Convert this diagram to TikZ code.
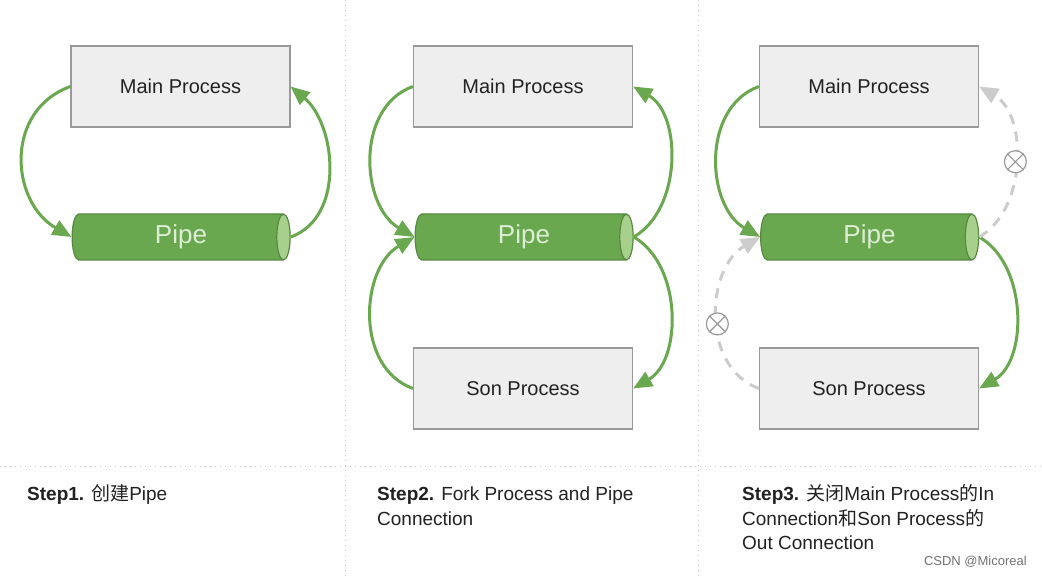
\documentclass[tikz,border=0pt]{standalone}
\usepackage{fontspec}
\setmainfont{Liberation Sans}
\newfontfamily\cjk{Noto Sans CJK SC}
\usetikzlibrary{shapes.geometric,arrows.meta}
\definecolor{boxfill}{HTML}{EEEEEE}
\definecolor{boxborder}{HTML}{999999}
\definecolor{textdark}{HTML}{222222}
\definecolor{pipegreen}{HTML}{6AA84F}
\definecolor{pipeborder}{HTML}{56893F}
\definecolor{pipeend}{HTML}{A8D08D}
\definecolor{pipetext}{HTML}{DDEDD5}
\definecolor{graycon}{HTML}{CCCCCC}
\definecolor{sepcol}{HTML}{C8C8C8}
\tikzset{
  procbox/.style={draw=boxborder, fill=boxfill, line width=1.2pt, minimum width=219pt, minimum height=81pt, inner sep=0pt, font=\fontsize{20}{24}\selectfont, text=textdark},
  pipebox/.style={cylinder, shape border rotate=0, shape aspect=0.55, draw=pipeborder, line width=1.2pt, cylinder uses custom fill, cylinder body fill=pipegreen, cylinder end fill=pipeend, minimum height=218pt, minimum width=46pt, inner sep=0pt, text=pipetext, font=\fontsize{26}{30}\selectfont},
  greencon/.style={draw=pipegreen, line width=3pt, -{Triangle[length=19pt,width=16pt]}},
  graydash/.style={draw=graycon, line width=3pt, dash pattern=on 10pt off 8pt, -{Triangle[length=19pt,width=16pt]}},
  xcirc/.style={circle, draw=boxborder, fill=white, line width=1.2pt, minimum size=22pt, inner sep=0pt, solid},
  sepline/.style={draw=sepcol, line width=1pt, dash pattern=on 1pt off 4pt},
  steptext/.style={anchor=base west, inner sep=0pt, text=textdark, font=\fontsize{19}{24.5}\selectfont},
  wmark/.style={anchor=base east, inner sep=0pt, text=black!55, font=\fontsize{13}{15}\selectfont}
}
\begin{document}
\begin{tikzpicture}[x=1pt,y=1pt]
\useasboundingbox[fill=white] (0,0) rectangle (1042,576);
% separators
\coordinate (s1t) at (345,576); \coordinate (s1b) at (345,0);
\coordinate (s2t) at (698,576); \coordinate (s2b) at (698,0);
\coordinate (hl) at (0,109); \coordinate (hr) at (1042,109);
\draw[sepline] (s1t) -- (s1b);
\draw[sepline] (s2t) -- (s2b);
\draw[sepline] (hl) -- (hr);
% panel 1
\node[procbox] (main1) at (180.5,489.5) {Main Process};
\node[pipebox] (pipe1) at (177.5,339) {\kern7pt Pipe};
\draw[greencon] (main1.west) to[out=200,in=150,looseness=1.2] (pipe1.west);
\draw[greencon] (pipe1.east) to[out=20,in=-40,looseness=1.0] (main1.east);
% panel 2
\node[procbox] (main2) at (523,489.5) {Main Process};
\node[pipebox] (pipe2) at (520.5,339) {\kern7pt Pipe};
\node[procbox] (son2) at (523,187.5) {Son Process};
\draw[greencon] (main2.west) to[out=200,in=150,looseness=1.05] (pipe2.west);
\draw[greencon] (son2.west) to[out=160,in=210,looseness=1.05] (pipe2.west);
\draw[greencon] (pipe2.east) to[out=30,in=-30,looseness=0.95] (main2.east);
\draw[greencon] (pipe2.east) to[out=-30,in=30,looseness=0.95] (son2.east);
% panel 3
\node[procbox] (main3) at (869,489.5) {Main Process};
\node[pipebox] (pipe3) at (866,339) {\kern7pt Pipe};
\node[procbox] (son3) at (869,187.5) {Son Process};
\draw[greencon] (main3.west) to[out=200,in=150,looseness=1.05] (pipe3.west);
\draw[greencon] (pipe3.east) to[out=-30,in=30,looseness=0.95] (son3.east);
\draw[graydash] (son3.west) to[out=160,in=210,looseness=1.05] node[pos=0.46,xcirc] (x1) {} (pipe3.west);
\draw[graydash] (pipe3.east) to[out=30,in=-30,looseness=0.95] node[pos=0.5,xcirc] (x2) {} (main3.east);
\draw[draw=boxborder, line width=1.2pt] (x1.north west) -- (x1.south east) (x1.north east) -- (x1.south west);
\draw[draw=boxborder, line width=1.2pt] (x2.north west) -- (x2.south east) (x2.north east) -- (x2.south west);
% step texts
\node[steptext] (t1) at (27,75) {\textbf{Step1.} {\cjk 创建}Pipe};
\node[steptext] (t2) at (377,75) {\begin{tabular}[t]{@{}l@{}}\textbf{Step2.} Fork Process and Pipe\\Connection\end{tabular}};
\node[steptext] (t3) at (742,75) {\begin{tabular}[t]{@{}l@{}}\textbf{Step3.} {\cjk 关闭}Main Process{\cjk 的}In\\Connection{\cjk 和}Son Process{\cjk 的}\\Out Connection\end{tabular}};
\node[wmark] (wm) at (1027,10) {CSDN @Micoreal};
\end{tikzpicture}
\end{document}
